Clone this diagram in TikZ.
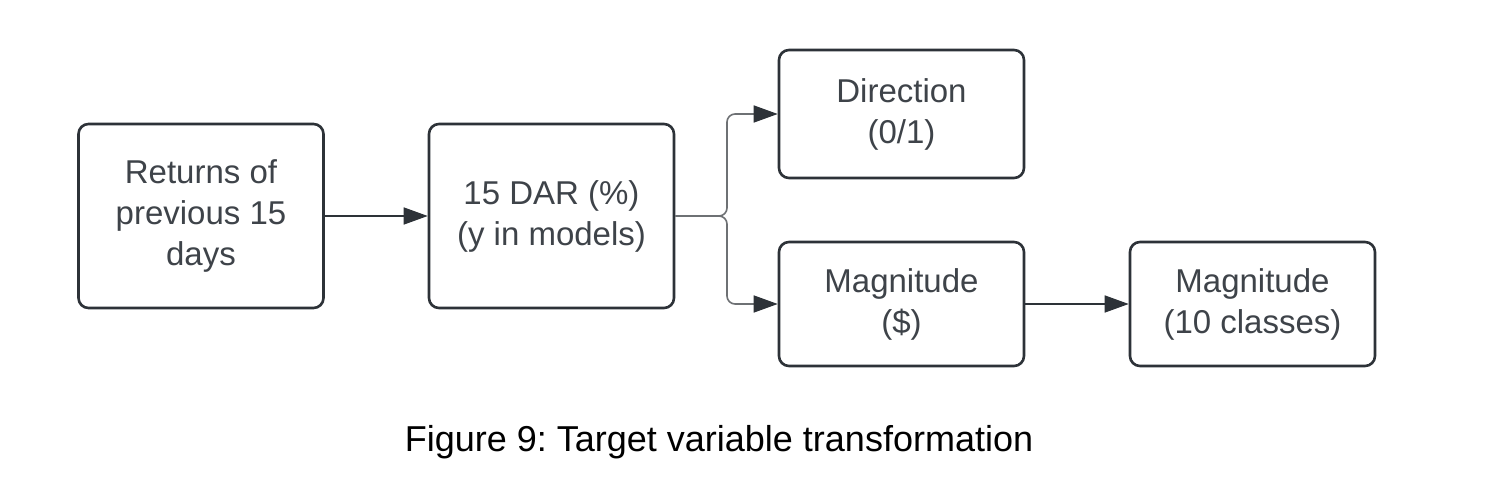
\documentclass[tikz,border=0pt]{standalone}
\usepackage{fontspec}
\setmainfont{Liberation Sans}
\usetikzlibrary{arrows.meta}
\definecolor{boxline}{HTML}{2D3238}
\definecolor{boxtext}{HTML}{3E4349}
\definecolor{branch}{HTML}{6E7174}
\tikzset{
  flowbox/.style={draw=boxline, line width=2.6pt, rounded corners=10pt, align=center,
    text=boxtext, font=\fontsize{33}{41}\selectfont, inner sep=0pt, minimum width=245pt},
  link/.style={draw=boxline, line width=1.6pt, -{Triangle[length=24pt,width=17pt]}},
  blink/.style={draw=branch, line width=1.6pt, rounded corners=8pt, -{Triangle[length=24pt,width=17pt,color=boxline,fill=boxline]}}
}
\begin{document}
\frenchspacing
\begin{tikzpicture}[x=1pt,y=-1pt]
\useasboundingbox[fill=white] (0,0) rectangle (1502,494);
\node[flowbox, minimum height=184pt] (b1) at (201,216) {Returns of\\previous 15\\days};
\node[flowbox, minimum height=184pt] (b2) at (551.5,216) {15 DAR (\%)\\(y in models)};
\node[flowbox, minimum height=128pt] (b3) at (901.5,114) {Direction\\(0/1)};
\node[flowbox, minimum height=124pt] (b4) at (901.5,304) {Magnitude\\(\$)};
\node[flowbox, minimum height=124pt] (b5) at (1252.5,304) {Magnitude\\(10 classes)};
\coordinate (split) at (727,216);
\draw[link] (b1.east) -- (b2.west);
\draw[blink] (b2.east) -- (split) |- (b3.west);
\draw[blink] (b2.east) -- (split) |- (b4.west);
\draw[link] (b4.east) -- (b5.west);
\node[font=\fontsize{36}{40}\selectfont, text=black, inner sep=0pt] (cap) at (719,442) {Figure 9: Target variable transformation};
\end{tikzpicture}
\end{document}
